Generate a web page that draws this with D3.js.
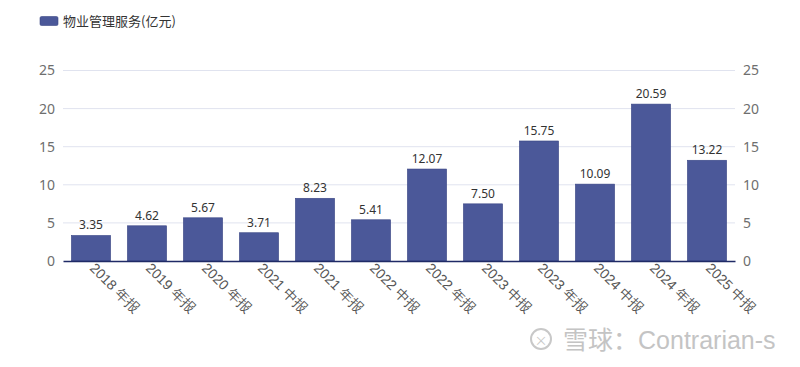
<!DOCTYPE html>
<html><head><meta charset="utf-8">
<script src="https://cdn.jsdelivr.net/npm/d3@7/dist/d3.min.js"></script>
<style>body{margin:0;background:#fff;}svg{display:block;font-family:"Noto Sans CJK SC","Noto Sans",sans-serif;}</style>
</head><body><svg id="c" width="800" height="367"></svg>
<script>
const categories = ["2018 年报","2019 年报","2020 年报","2021 中报","2021 年报","2022 中报","2022 年报","2023 中报","2023 年报","2024 中报","2024 年报","2025 中报"];
const values = [3.35,4.62,5.67,3.71,8.23,5.41,12.07,7.50,15.75,10.09,20.59,13.22];
const yTicks = [0,5,10,15,20,25];
const seriesName = "物业管理服务(亿元)";

const svg = d3.select("#c");
const L = 63, R = 735, T = 70.5, B = 261;
const x = d3.scaleBand().domain(categories).range([L, R]).paddingInner(0.3).paddingOuter(0.15);
const y = d3.scaleLinear().domain([0, 25]).range([B, T]);
const barColor = "#4b5899";

// grid
svg.append("g").selectAll("line").data(yTicks.filter(d => d > 0)).join("line")
  .attr("x1", L).attr("x2", R).attr("y1", d => y(d)).attr("y2", d => y(d))
  .attr("stroke", "#e0e3ef").attr("stroke-width", 1);

// left axis
const la = svg.append("g").attr("transform", `translate(${L},0)`)
  .call(d3.axisLeft(y).tickValues(yTicks).tickSize(0).tickPadding(8));
la.select(".domain").remove();
la.selectAll("text").attr("fill", "#6e6e6e").style("font-size", "14px").style("font-family", "'Noto Sans','DejaVu Sans',sans-serif");

const ra = svg.append("g").attr("transform", `translate(${R},0)`)
  .call(d3.axisRight(y).tickValues(yTicks).tickSize(0).tickPadding(8));
ra.select(".domain").remove();
ra.selectAll("text").attr("fill", "#6e6e6e").style("font-size", "14px").style("font-family", "'Noto Sans','DejaVu Sans',sans-serif");

// bars
svg.append("g").selectAll("rect").data(values).join("rect")
  .attr("x", (d, i) => x(categories[i])).attr("width", x.bandwidth())
  .attr("y", d => y(d)).attr("height", d => B - y(d))
  .attr("fill", barColor).attr("stroke", "#3a4685").attr("stroke-width", 0.6);

// value labels
svg.append("g").selectAll("text").data(values).join("text")
  .attr("x", (d, i) => x(categories[i]) + x.bandwidth() / 2)
  .attr("y", d => y(d) - 6)
  .attr("text-anchor", "middle").attr("fill", "#333").style("font-size", "12px")
  .style("font-family", "'Noto Sans','DejaVu Sans',sans-serif")
  .text(d => d.toFixed(2));

// bottom axis
const ba = svg.append("g").attr("transform", `translate(0,${B})`)
  .call(d3.axisBottom(x).tickSize(0).tickPadding(0));
ba.select(".domain").attr("stroke", "#1f2a66").attr("stroke-width", 1.3);
ba.selectAll("text").attr("fill", "#555").style("font-size", "14px")
  .attr("text-anchor", "start").attr("dy", null).attr("y", 0)
  .attr("transform", "translate(-2,8) rotate(45)");

// legend
svg.append("rect").attr("x", 40).attr("y", 16.5).attr("width", 18).attr("height", 9).attr("rx", 1.5)
  .attr("fill", barColor).attr("stroke", "#3a4685").attr("stroke-width", 0.6);
svg.append("text").attr("x", 63).attr("y", 26).attr("fill", "#333").style("font-size", "13px").text(seriesName);

// watermark
const wm = svg.append("g");
wm.append("circle").attr("cx", 541).attr("cy", 339).attr("r", 10).attr("fill", "none").attr("stroke", "#c8c8c8").attr("stroke-width", 2);
wm.append("text").attr("x", 541).attr("y", 339).attr("text-anchor","middle").attr("dominant-baseline","central").attr("fill","#c8c8c8").style("font-size","13px").text("×");
const wt = wm.append("text").attr("x", 563).attr("y", 349).attr("fill", "#c4c4c4");
wt.append("tspan").style("font-size", "25px").style("font-family","'Noto Sans CJK SC',sans-serif").text("雪球：");
wt.append("tspan").style("font-size", "25px").style("font-family","'Liberation Sans',Arial,sans-serif").text("Contrarian-s");
</script></body></html>
